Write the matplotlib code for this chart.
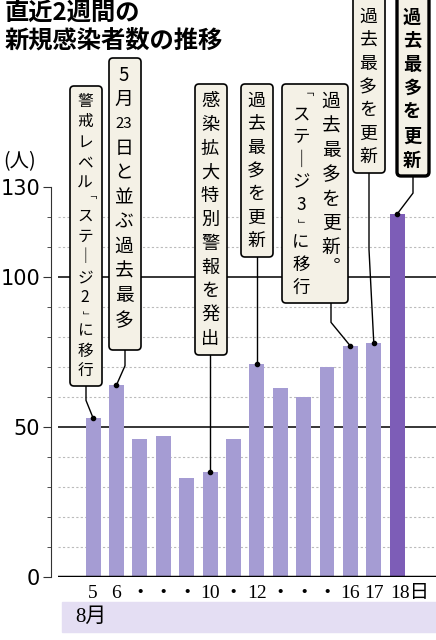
import matplotlib
matplotlib.use("Agg")
import matplotlib.pyplot as plt
import matplotlib.transforms as mtransforms
from matplotlib.patches import FancyBboxPatch, Rectangle

plt.rcParams['font.family'] = ['Noto Sans CJK JP', 'DejaVu Sans']

days = ["5", "6", "・", "・", "・", "10", "・", "12", "・", "・", "・", "16", "17", "18日"]
values = [53, 64, 46, 47, 33, 35, 46, 71, 63, 60, 70, 77, 78, 121]
month = "8月"
title = "直近2週間の\n新規感染者数の推移"
unit = "(人)"
yticks = [0, 50, 100, 130]

# callouts: (bar index, box center x px, box top px, box bottom px, columns, bold)
callouts = [
    (0, 86, 86, 386, ["警戒レベル「ステージ2」に移行"], False),
    (1, 125, 58, 350, ["5月23日と並ぶ過去最多"], False),
    (5, 211, 84, 355, ["感染拡大特別警報を発出"], False),
    (7, 257, 84, 257, ["過去最多を更新"], False),
    (11, 315, 84, 303, ["過去最多を更新。", "「ステージ3」に移行"], False),
    (12, 369, -8, 173, ["過去最多を更新"], False),
    (13, 413, -8, 176, ["過去最多を更新"], True),
]

W, H = 436, 640
fig = plt.figure(figsize=(W/100, H/100), dpi=100)
fig.patch.set_facecolor("white")

ax = fig.add_axes([58/W, (H-577)/H, (W-58)/W, (577-187)/H])
x = list(range(len(values)))
colors = ["#a59cd3"] * (len(values)-1) + ["#7d5db7"]
ax.bar(x, values, width=0.64, color=colors, zorder=2)
ax.set_xlim(-1.5, 14.66)
ax.set_ylim(0, 130)
for v in range(10, 130, 10):
    if v in (50, 100):
        ax.axhline(v, color="black", lw=1.1, zorder=1)
    else:
        ax.axhline(v, color="#bbbbbb", lw=0.8, ls=(0, (2, 2)), zorder=1)
ax.axhline(0, color="black", lw=2.5, zorder=3)
for s in ["top", "right", "bottom"]:
    ax.spines[s].set_visible(False)
ax.spines["left"].set_position(("outward", 5))
ax.spines["left"].set_color("#333333")
ax.set_yticks(yticks)
ax.set_yticklabels([str(t) for t in yticks], fontsize=15, family=['Liberation Sans Narrow', 'DejaVu Sans'])
ax.set_yticks(range(10, 130, 10), minor=True)
ax.tick_params(axis="y", which="major", length=6, color="#333333", pad=2)
ax.tick_params(axis="y", which="minor", length=3, color="#333333")
ax.set_xticks(x)
ax.set_xticklabels(days, fontsize=14, family=['Liberation Serif', 'Noto Sans CJK JP'])
ax.tick_params(axis="x", length=0, pad=6)
last = ax.get_xticklabels()[-1]
last.set_horizontalalignment("left")
last.set_transform(last.get_transform() + mtransforms.ScaledTranslation(-7/100, 0, fig.dpi_scale_trans))

ov = fig.add_axes([0, 0, 1, 1], zorder=5)
ov.set_xlim(0, W)
ov.set_ylim(H, 0)
ov.axis("off")
ov.patch.set_alpha(0)

ov.text(5, 2, title, fontsize=17.5, fontweight="bold", va="top", ha="left", linespacing=1.15)
ov.text(3, 162, unit, fontsize=14, va="center", ha="left")
ov.add_patch(Rectangle((62, 602), W-62, 30, color="#e4def3", zorder=0))
ov.text(75, 617, month, fontsize=15, va="center", ha="left", family=['Liberation Serif', 'Noto Sans CJK JP'])

vert = {"ー": "｜", "。": "︒"}
small = set("「」。")

def tokens(s):
    out = []
    i = 0
    while i < len(s):
        if s[i].isdigit() and i+1 < len(s) and s[i+1].isdigit():
            out.append(s[i:i+2]); i += 2
        else:
            out.append(s[i]); i += 1
    return out

for idx, cx, top, bot, cols, bold in callouts:
    ncol = len(cols)
    bw = 32 * ncol + (2 * (ncol - 1))
    ov.add_patch(FancyBboxPatch((cx - bw/2, top), bw, bot - top,
                 boxstyle="round,pad=0,rounding_size=4",
                 fc="#f4f1e6", ec="black", lw=2.4 if bold else 1.2, zorder=3))
    for ci, col in enumerate(cols):
        colx = cx + bw/2 - 17 - ci * 30
        toks = tokens(col)
        weights = [0.6 if t in small else 1.0 for t in toks]
        y0 = max(top, 0) + 5
        total = sum(weights)
        avail = bot - 4 - y0
        step = min(avail / total, 24.5)
        fs = min(15, step * 0.55)
        y = y0
        for t, w in zip(toks, weights):
            h = w * step
            tt = vert.get(t, t)
            rot = 90 if t in "「」" else 0
            if t in "「」":
                tt = "[" if t == "「" else "]"
                tt = "⌐" if False else tt
            ov.text(colx, y + h/2, vert.get(t, t) if not rot else ("「" if t == "「" else "」"),
                    fontsize=fs * (0.8 if len(t) > 1 else 1) * (0.6 if rot else 1),
                    rotation=-90 if rot else 0, rotation_mode="anchor",
                    ha="center", va="center", zorder=4,
                    fontweight="bold" if bold else "normal")
            y += h
    # connector
    px, py = ax.transData.transform((idx, values[idx]))
    py = H - py
    lx = cx + (bw/2 - 17 if ncol > 1 else 0)
    if abs(lx - px) < 3:
        ov.plot([px, px], [bot, py], color="black", lw=1, zorder=2)
    else:
        mid = bot + (py - bot) * 0.45
        ov.plot([lx, lx, px], [bot, mid, py], color="black", lw=1, zorder=2)
    ov.plot([px], [py], "o", color="black", ms=3, zorder=6)

fig.savefig("out.png", dpi=100)
